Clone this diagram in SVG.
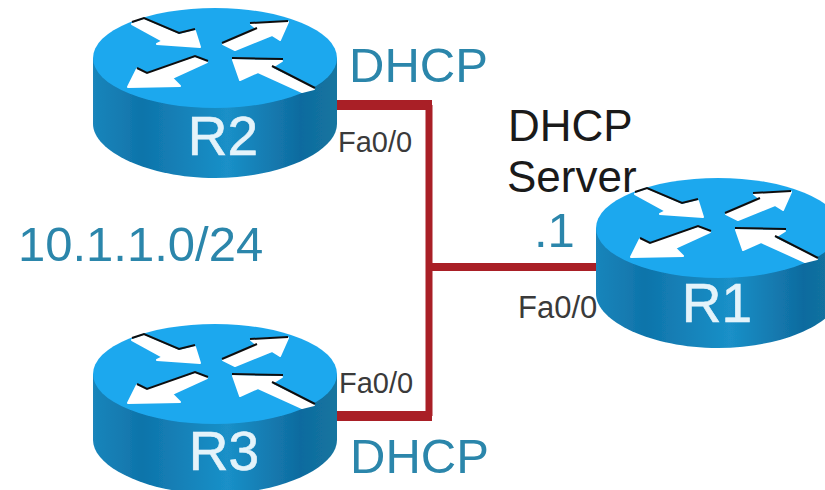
<svg xmlns="http://www.w3.org/2000/svg" width="825" height="490" viewBox="0 0 825 490">
<style>
text{font-family:"Liberation Sans",Arial,sans-serif}
.blue{fill:#2b86ab;font-size:49px}
.blk{fill:#1a1a1a;font-size:44px}
.fa{fill:#3a3a3a;font-size:29px}
.name{fill:#e4f3fa;font-size:55px;text-anchor:middle;stroke:#e4f3fa;stroke-width:.6}
.ar{fill:#fff;stroke:#fff;stroke-width:2;stroke-linejoin:round}
.ed{fill:none;stroke:#111;stroke-width:2}
.link{fill:none;stroke:#a91f26}
</style>
<defs>
<linearGradient id="side" x1="0" x2="1" y1="0" y2="0">
<stop offset="0" stop-color="#1a85bb"/><stop offset=".2" stop-color="#0f74aa"/><stop offset=".55" stop-color="#1a90c8"/><stop offset=".85" stop-color="#0f6b9f"/><stop offset="1" stop-color="#14759f"/>
</linearGradient>
<filter id="soft" x="-5%" y="-5%" width="110%" height="110%"><feGaussianBlur stdDeviation="0.6"/></filter>
<g id="router" filter="url(#soft)">
<path d="M-122 0V66C-122 93-67 120 0 120S122 93 122 66V0Z" fill="url(#side)"/>
<ellipse cx="0" cy="0" rx="122" ry="50" fill="#1ea8ee"/>
<polygon class="ar" points="-83,-34 -71,-38 -36,-23 -20,-27 -15,-11 -58,-14 -52,-17"/>
<polygon class="ar" points="8,-14 42,-29 36,-34 73,-36 65,-18 57,-23 20,-8"/>
<polygon class="ar" points="-20,0 -8,4 -43,20 -35,28 -87,29 -78,11 -68,16"/>
<polygon class="ar" points="18,2 67,3 56,10 99,31 87,34 43,14 25,22"/>
<path class="ed" d="M-83,-36L-71,-40L-36,-25L-20,-29"/>
<path class="ed" d="M7,-15L42,-30M35,-35L73,-37"/>
<path class="ed" d="M-78,10L-68,15L-20,-2L-7,3"/>
<path class="ed" d="M17,0L68,1M57,8L100,30"/>
</g>
</defs>
<rect width="825" height="490" fill="#fff"/>
<g id="connectors">
<path class="link" stroke-width="7" d="M429 105V416"/>
<path class="link" stroke-width="10" d="M337 105H432"/>
<path class="link" stroke-width="10" d="M337 416H432"/>
<path class="link" stroke-width="8" d="M429 267H597"/>
</g>
<g id="R2"><use href="#router" x="215" y="58"/><text class="name" x="223" y="155">R2</text></g>
<g id="R3"><use href="#router" x="215" y="374"/><text class="name" x="224" y="470">R3</text></g>
<g id="R1"><use href="#router" x="718" y="228"/><text class="name" x="717" y="322">R1</text></g>
<g id="labels">
<text class="blue" x="349" y="82">DHCP</text>
<text class="blue" x="350" y="473">DHCP</text>
<text class="blue" x="18" y="261">10.1.1.0/24</text>
<text class="blue" x="534" y="247">.1</text>
<text class="blk" x="508" y="141">DHCP</text>
<text class="blk" x="507" y="192">Server</text>
<text class="fa" x="338" y="152">Fa0/0</text>
<text class="fa" x="339" y="393">Fa0/0</text>
<text class="fa" x="518" y="318" style="font-size:31px">Fa0/0</text>
</g>
</svg>
